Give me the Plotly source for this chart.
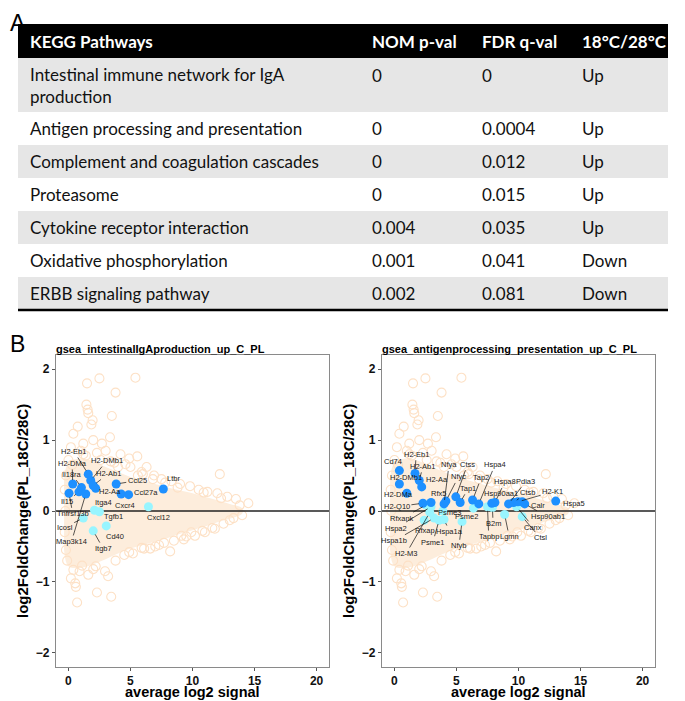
import plotly.graph_objects as go

PAGE_W, PAGE_H = 685, 701
OFF = 8  # browser body margin
W, H = PAGE_W - OFF, PAGE_H - OFF


def px(x):
    return (x - OFF) / W


def py(y):
    return 1 - (y - OFF) / H


# ---------------- Table (panel A) ----------------
table_header = ["KEGG Pathways", "NOM p-val", "FDR q-val", "18\u00b0C/28\u00b0C"]
pathways = [
    "Intestinal immune network for IgA<br>production",
    "Antigen processing and presentation",
    "Complement and coagulation cascades",
    "Proteasome",
    "Cytokine receptor interaction",
    "Oxidative phosphorylation",
    "ERBB signaling pathway",
]
nom_p = ["0", "0", "0", "0", "0.004", "0.001", "0.002"]
fdr_q = ["0", "0.0004", "0.012", "0.015", "0.035", "0.041", "0.081"]
direction = ["Up", "Up", "Up", "Up", "Up", "Down", "Down"]

# ---------------- Shared background (all genes) ----------------
core_x = [-0.35, 0, 1, 2, 3, 4, 5, 6, 7, 8, 9, 10, 11, 12, 13, 14]
core_up = [0.45, 0.68, 0.74, 0.7, 0.62, 0.55, 0.48, 0.43, 0.38, 0.33, 0.29, 0.25, 0.2, 0.15, 0.1, 0.04]
core_lo = [-0.55, -0.78, -0.8, -0.75, -0.68, -0.6, -0.53, -0.48, -0.43, -0.38, -0.32, -0.27, -0.22, -0.16, -0.11, -0.04]

bg_x = [5.4, 2.5, 1.5, 3.8, 1.45, 1.55, 1.6, 1.95, 1.85, 3.5, 0.75, 3.35, 1.2, 0.4, 2.7,
        4.9, 5.55, 6.3, 6.9, 12.2, 2.0, 0.2, 1.0, 2.3, 3.0, 4.2, 3.7, 5.0, 5.9, 7.5,
        8.3, 9.0, 9.8, 10.5, 11.2, 12.0, 12.8, 13.5, 14.5, 14.0, 13.3, 12.5, 11.0, 11.8, 10.2,
        9.3, 8.2, 7.3, 6.6, 6.1, 5.2, 4.5, 3.8, 2.95, 2.2, 0.4, 1.1, 0.55, 0.6, 2.3,
        3.45, 0.7, -0.1, -0.2, -0.3, -0.25, -0.3, -0.2, 0.3, 1.6, 0.2, 3.2, 4.6, 6.0, 7.8,
        8.8, 10.9, 9.5, 11.6, 13.0, 1.4, 2.6, 3.4, 4.0, 5.6, 6.8, 7.0, 8.5, 9.9, 10.8,
        12.3, 13.8, 0.9, 2.0, 4.9, 5.9, 7.7, 9.1, 0.0, 1.2]
bg_y = [1.88, 1.87, 1.80, 1.67, 1.50, 1.43, 1.38, 1.28, 1.22, 1.34, 1.19, 1.04, 0.95, 1.09, 0.95,
        0.74, 0.77, 0.62, 0.50, 0.52, 1.0, 0.90, 0.85, 0.82, 0.85, 0.80, 0.68, 0.62, 0.55, 0.45,
        0.42, 0.38, 0.35, 0.30, 0.27, 0.25, 0.20, 0.17, 0.11, -0.06, -0.10, -0.18, -0.30, -0.25, -0.35,
        -0.40, -0.57, -0.48, -0.53, -0.53, -0.60, -0.62, -0.70, -0.85, -0.78, -0.83, -0.77, -1.02, -1.07, -1.15,
        -1.21, -1.29, -0.70, -0.55, -0.30, 0.0, 0.30, 0.50, 0.65, -0.90, -0.95, -0.92, 0.66, 0.52, 0.40,
        0.33, 0.26, -0.36, -0.24, -0.13, 0.78, 0.72, 0.70, 0.62, 0.50, 0.45, -0.50, -0.42, -0.30, -0.28,
        0.18, 0.08, -0.85, -0.82, -0.58, -0.52, -0.45, -0.35, 0.72, 0.80]

# ---------------- Left panel: intestinal IgA production ----------------
iga_genes = ["H2-Eb1", "H2-DMb1", "H2-Ab1", "H2-Aa", "H2-DMa", "Il18ra", "Il15", "Tnfrsf13b",
             "Map3k14", "Ccl25", "Cxcr4", "Ccl27a", "Ltbr",
             "Itga4", "Tgfb1", "Icosl", "Cd40", "Itgb7", "Cxcl12"]
iga_x = [1.6, 1.8, 2.0, 2.2, 0.35, 1.05, 0.85, 0.05,
         1.4, 3.85, 4.25, 4.85, 7.65,
         2.1, 2.5, 1.2, 3.05, 2.0, 6.45]
iga_y = [0.52, 0.43, 0.36, 0.32, 0.38, 0.33, 0.27, 0.25,
         0.24, 0.38, 0.24, 0.23, 0.31,
         0.01, -0.01, -0.10, -0.21, -0.28, 0.06]
iga_up = [True] * 13 + [False] * 6
iga_lab_x = [0.45, 3.1, 3.25, 3.35, 0.3, 0.3, -0.15, 0.35,
             0.25, 5.55, 4.6, 6.25, 8.45,
             2.8, 3.65, -0.3, 3.75, 2.8, 7.25]
iga_lab_y = [0.84, 0.71, 0.53, 0.27, 0.67, 0.52, 0.13, -0.04,
             -0.43, 0.43, 0.08, 0.26, 0.46,
             0.12, -0.08, -0.23, -0.36, -0.53, -0.09]
iga_line = [True, True, True, False, True, True, True, True,
            True, True, False, False, False,
            False, False, True, False, True, False]

# ---------------- Right panel: antigen processing & presentation ----------------
ag_genes = ["Cd74", "H2-DMb1", "H2-Eb1", "H2-Ab1", "H2-Aa", "H2-DMa", "H2-Q10", "Rfx5",
            "Nfya", "Nfyc", "Ctss", "Tap1", "Tap2", "Hspa4", "Hspa8", "Hsp90aa1",
            "Pdia3", "Ctsb", "H2-K1", "Calr", "Hsp90ab1", "Hspa5",
            "Rfxank", "Hspa2", "Hspa1b", "H2-M3", "Rfxap", "Psme1", "Hspa1a", "Psme3",
            "Nfyb", "Psme2", "B2m", "Tapbp", "Lgmn", "Canx", "Ctsl"]
ag_x = [0.4, 0.4, 1.66, 2.0, 2.2, 1.0, 2.3, 2.95,
        4.0, 4.15, 4.95, 5.3, 6.3, 6.8, 8.1, 7.85,
        9.2, 9.6, 9.95, 10.3, 10.5, 13.0,
        2.55, 2.95, 3.2, 2.85, 2.4, 3.6, 4.0, 3.9,
        5.45, 6.37, 7.9, 7.5, 8.88, 9.85, 10.3]
ag_y = [0.57, 0.38, 0.53, 0.43, 0.34, 0.25, 0.11, 0.12,
        0.10, 0.14, 0.20, 0.12, 0.155, 0.10, 0.12, 0.11,
        0.10, 0.12, 0.13, 0.13, 0.10, 0.14,
        0.085, 0.06, -0.10, -0.02, -0.13, -0.13, -0.12, 0.0,
        -0.15, 0.04, 0.05, 0.06, -0.05, 0.06, -0.08]
ag_up = [True] * 22 + [False] * 15
ag_lab_x = [-0.1, 0.95, 1.75, 2.3, 3.45, 0.35, 0.2, 3.55,
            4.4, 5.15, 5.9, 5.95, 7.0, 8.1, 8.9, 8.6,
            10.6, 10.7, 12.75, 11.55, 12.35, 14.5,
            0.65, 0.15, 0.0, 0.95, 2.5, 3.1, 4.45, 4.45,
            5.2, 5.8, 7.95, 7.6, 9.25, 11.2, 11.75]
ag_lab_y = [0.70, 0.47, 0.80, 0.63, 0.45, 0.23, 0.06, 0.25,
            0.65, 0.48, 0.66, 0.32, 0.47, 0.65, 0.41, 0.25,
            0.42, 0.26, 0.27, 0.08, -0.08, 0.10,
            -0.10, -0.24, -0.42, -0.60, -0.28, -0.44, -0.29, -0.02,
            -0.49, -0.08, -0.18, -0.36, -0.36, -0.23, -0.38]
ag_line = [False, False, True, True, True, False, True, False,
           True, True, True, True, True, True, True, False,
           True, True, True, False, True, False,
           True, True, True, True, False, True, True, False,
           True, False, True, True, True, True, True]

panel_titles = ["gsea_intestinalIgAproduction_up_C_PL", "gsea_antigenprocessing_presentation_up_C_PL"]
x_range = [-1, 21]
y_range = [-2.2, 2.2]
x_ticks = [0, 5, 10, 15, 20]
y_ticks = [-2, -1, 0, 1, 2]

COL_UP = "#1E90FF"
COL_OTHER = "#98F5FF"
COL_BG = "#FDE1C6"
COL_CORE = "#FDEDDC"
ARIAL = "Liberation Sans, Arial, sans-serif"
LABEL_FONT = dict(family=ARIAL, size=7.5, color="#1a1a1a")

fig = go.Figure()
annotations = []
shapes = []

panels = [
    (iga_genes, iga_x, iga_y, iga_up, iga_lab_x, iga_lab_y, iga_line),
    (ag_genes, ag_x, ag_y, ag_up, ag_lab_x, ag_lab_y, ag_line),
]

for i, (genes, gx, gy, gup, lx, ly, gline) in enumerate(panels):
    xa = "x" if i == 0 else "x2"
    ya = "y" if i == 0 else "y2"
    fig.add_trace(go.Scatter(
        x=core_x + core_x[::-1], y=core_up + core_lo[::-1],
        mode="lines", fill="toself", fillcolor=COL_CORE,
        line=dict(width=0, shape="spline"), hoverinfo="skip",
        showlegend=False, xaxis=xa, yaxis=ya))
    fig.add_trace(go.Scatter(
        x=bg_x, y=bg_y, mode="markers",
        marker=dict(symbol="circle-open", size=9, color=COL_BG, line=dict(width=1.1)),
        hoverinfo="skip", showlegend=False, xaxis=xa, yaxis=ya))
    fig.add_trace(go.Scatter(
        x=x_range, y=[0, 0], mode="lines", line=dict(color="#222222", width=1.3),
        hoverinfo="skip", showlegend=False, xaxis=xa, yaxis=ya))
    ox = [x for x, u in zip(gx, gup) if not u]
    oy = [y for y, u in zip(gy, gup) if not u]
    fig.add_trace(go.Scatter(
        x=ox, y=oy, mode="markers",
        marker=dict(size=9, color=COL_OTHER, line=dict(width=0)),
        showlegend=False, xaxis=xa, yaxis=ya))
    ux = [x for x, u in zip(gx, gup) if u]
    uy = [y for y, u in zip(gy, gup) if u]
    fig.add_trace(go.Scatter(
        x=ux, y=uy, mode="markers",
        marker=dict(size=9, color=COL_UP, line=dict(width=0)),
        showlegend=False, xaxis=xa, yaxis=ya))
    for g, x, y, tx, ty, ln in zip(genes, gx, gy, lx, ly, gline):
        if ln:
            annotations.append(dict(
                x=x, y=y, xref=xa, yref=ya, ax=tx, ay=ty, axref=xa, ayref=ya,
                text=g, showarrow=True, arrowhead=0, arrowwidth=0.7,
                arrowcolor="#111111", standoff=4, font=LABEL_FONT))
        else:
            annotations.append(dict(
                x=tx, y=ty, xref=xa, yref=ya, text=g, showarrow=False, font=LABEL_FONT))

left_dom = [px(56), px(329)]
right_dom = [px(382), px(655)]
y_dom = [py(667), py(355)]

axis_common = dict(
    showgrid=False, zeroline=False, showline=True, linecolor="#8a8a8a", linewidth=1.2,
    mirror=True, ticks="outside", ticklen=3, tickcolor="#555555", tickwidth=1,
    tickfont=dict(family=ARIAL, size=12, color="#111111", weight="bold"),
)
xaxis_extra = dict(ticklabelstandoff=-1)

fig.update_layout(
    width=W, height=H, autosize=False,
    margin=dict(l=0, r=0, t=0, b=0),
    paper_bgcolor="white", plot_bgcolor="white",
    xaxis=dict(domain=left_dom, range=x_range, tickvals=x_ticks, anchor="y", **axis_common, **xaxis_extra),
    yaxis=dict(domain=y_dom, range=y_range, tickvals=y_ticks, anchor="x", **axis_common),
    xaxis2=dict(domain=right_dom, range=x_range, tickvals=x_ticks, anchor="y2", **axis_common, **xaxis_extra),
    yaxis2=dict(domain=y_dom, range=y_range, tickvals=y_ticks, anchor="x2", **axis_common),
)

# ---------------- table drawing ----------------
TFONT = "Lato, 'Open Sans', sans-serif"
tab_left, tab_right = 18, 668
row_edges = [58, 112, 145, 178, 211, 244, 277, 310]
shapes.append(dict(type="rect", xref="paper", yref="paper", x0=px(tab_left), x1=px(tab_right),
                   y0=py(58), y1=py(24), fillcolor="black", line=dict(width=0), layer="below"))
for r in range(len(pathways)):
    fill = "#E6E6E6" if r % 2 == 0 else "white"
    shapes.append(dict(type="rect", xref="paper", yref="paper", x0=px(tab_left), x1=px(tab_right),
                       y0=py(row_edges[r + 1]), y1=py(row_edges[r]), fillcolor=fill,
                       line=dict(width=0), layer="below"))
shapes.append(dict(type="line", xref="paper", yref="paper", x0=px(tab_left), x1=px(tab_right),
                   y0=py(310), y1=py(310), line=dict(color="black", width=2.5)))

col_x = [28, 370, 480, 580]
for cx, h in zip(col_x, table_header):
    annotations.append(dict(x=px(cx), y=py(41), xref="paper", yref="paper", text=h,
                            showarrow=False, xanchor="left", yanchor="middle",
                            font=dict(family=TFONT, size=17, color="white", weight="bold")))
for r in range(len(pathways)):
    top, bot = row_edges[r], row_edges[r + 1]
    first_line = top + 17 if r == 0 else (top + bot) / 2
    mid = (top + bot) / 2
    annotations.append(dict(x=px(col_x[0]), y=py(mid), xref="paper", yref="paper", text=pathways[r],
                            showarrow=False, xanchor="left", yanchor="middle", align="left",
                            font=dict(family=TFONT, size=17, color="#111111")))
    for cx, val in zip(col_x[1:], [nom_p[r], fdr_q[r], direction[r]]):
        annotations.append(dict(x=px(cx), y=py(first_line), xref="paper", yref="paper", text=val,
                                showarrow=False, xanchor="left", yanchor="middle",
                                font=dict(family=TFONT, size=17, color="#111111")))

for letter, ltop in [("A", 8), ("B", 329)]:
    annotations.append(dict(x=px(8), y=py(ltop), xref="paper", yref="paper", text=letter,
                            showarrow=False, xanchor="left", yanchor="top",
                            font=dict(family=ARIAL, size=23, color="black")))

for title, x0, ytx, xc in [(panel_titles[0], 56, 22, 192.5), (panel_titles[1], 382, 348, 518.5)]:
    annotations.append(dict(x=px(x0 - 2), y=py(349), xref="paper", yref="paper", text=title,
                            showarrow=False, xanchor="left", yanchor="middle",
                            font=dict(family=ARIAL, size=11, color="black", weight="bold")))
    annotations.append(dict(x=px(ytx), y=py(511), xref="paper", yref="paper",
                            text="log2FoldChange(PL_18C/28C)", textangle=-90,
                            showarrow=False, xanchor="center", yanchor="middle",
                            font=dict(family=ARIAL, size=15, color="black", weight="bold")))
    annotations.append(dict(x=px(xc), y=py(701), xref="paper", yref="paper",
                            text="average log2 signal", borderpad=0,
                            showarrow=False, xanchor="center", yanchor="bottom",
                            font=dict(family=ARIAL, size=14.5, color="black", weight="bold")))

fig.update_layout(annotations=annotations, shapes=shapes)
fig.write_html("out.html")
